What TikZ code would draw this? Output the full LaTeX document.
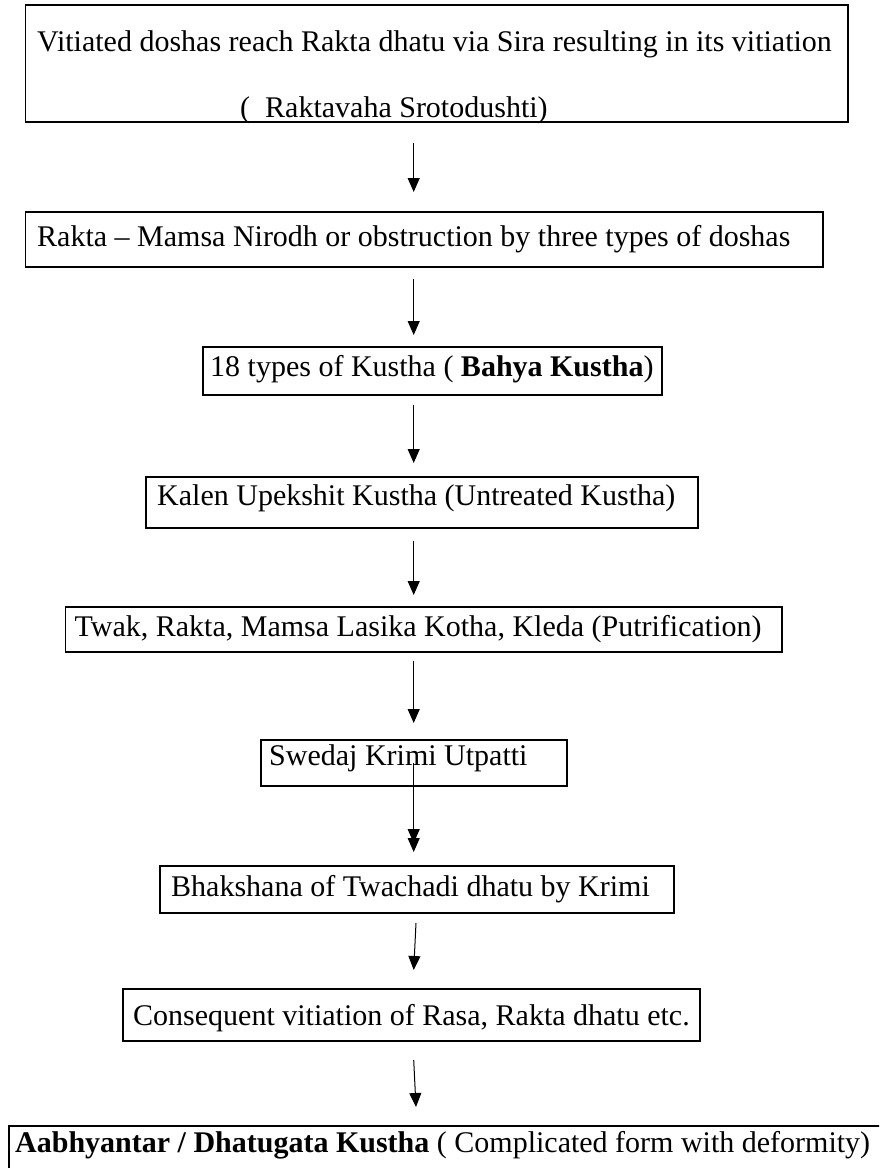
\documentclass[tikz,border=0pt]{standalone}
\usepackage{fontspec}
\setmainfont{Liberation Serif}
\usetikzlibrary{arrows.meta}
\tikzset{
  boxline/.style={draw=black, line width=1.5pt},
  txt/.style={anchor=base west, inner sep=0pt, font=\fontsize{30}{36}\selectfont},
  arr/.style={draw=black, line width=1pt, -{Triangle[length=14pt,width=12pt]}},
  frame/.style={inner sep=0pt, outer sep=0pt}
}
\begin{document}
\begin{tikzpicture}[x=1pt,y=-1pt]
\useasboundingbox (0,0) rectangle (879,1168);
\clip (0,0) rectangle (879,1168);
% boxes
\node[frame, boxline, fit/.style={}, minimum width=822.3pt, minimum height=117pt, anchor=north west] (b1) at (25.7,5) {};
\node[frame, boxline, minimum width=797.3pt, minimum height=55pt, anchor=north west] (b2) at (25.7,212) {};
\node[frame, boxline, minimum width=459pt, minimum height=48pt, anchor=north west] (b3) at (203,347) {};
\node[frame, boxline, minimum width=552pt, minimum height=51pt, anchor=north west] (b4) at (146,477) {};
\node[frame, boxline, minimum width=716.4pt, minimum height=45pt, anchor=north west] (b5) at (65.6,607) {};
\node[frame, boxline, minimum width=306pt, minimum height=46pt, anchor=north west] (b6) at (261,740) {};
\node[frame, boxline, minimum width=514pt, minimum height=47pt, anchor=north west] (b7) at (160,866) {};
\node[frame, boxline, minimum width=577pt, minimum height=52pt, anchor=north west] (b8) at (123,989) {};
\node[frame, boxline, minimum width=890pt, minimum height=60pt, anchor=north west] (b9) at (9,1126) {};
% texts
\node[txt] (t1a) at (37,51.7) {Vitiated doshas reach Rakta dhatu via Sira resulting in its vitiation};
\node[txt] (t1b) at (240,117) {(~~Raktavaha Srotodushti)};
\node[txt] (t2) at (37,246.7) {Rakta – Mamsa Nirodh or obstruction by three types of doshas};
\node[txt] (t3) at (210,376.7) {18 types of Kustha ( \textbf{Bahya Kustha})};
\node[txt] (t4) at (157,505) {Kalen Upekshit Kustha (Untreated Kustha)};
\node[txt] (t5) at (74.5,636) {Twak, Rakta, Mamsa Lasika Kotha, Kleda (Putrification)};
\node[txt] (t6) at (269,765) {Swedaj Krimi Utpatti};
\node[txt] (t7) at (171,896) {Bhakshana of Twachadi dhatu by Krimi};
\node[txt] (t8) at (133,1025) {Consequent vitiation of Rasa, Rakta dhatu etc.};
\node[txt] (t9) at (15,1152) {\textbf{Aabhyantar / Dhatugata Kustha} ( Complicated form with deformity)};
% arrow end points
\coordinate (a1s) at (413.7,143);  \coordinate (a1e) at (413.7,192);
\coordinate (a2s) at (413.7,279);  \coordinate (a2e) at (413.7,335);
\coordinate (a3s) at (413.7,405);  \coordinate (a3e) at (413.7,463);
\coordinate (a4s) at (413.7,541);  \coordinate (a4e) at (413.7,595);
\coordinate (a5s) at (413.7,661);  \coordinate (a5e) at (413.7,723);
\coordinate (a6s) at (413.7,763);  \coordinate (a6e) at (413.7,852);
\coordinate (a6m) at (413.7,843);
\coordinate (a7s) at (416,923);    \coordinate (a7e) at (413.7,970);
\coordinate (a8s) at (413.7,1060); \coordinate (a8e) at (416,1107);
\draw[arr] (a1s) -- (a1e);
\draw[arr] (a2s) -- (a2e);
\draw[arr] (a3s) -- (a3e);
\draw[arr] (a4s) -- (a4e);
\draw[arr] (a5s) -- (a5e);
\draw[arr] (a6s) -- (a6e);
\draw[arr] (a6s) -- (a6m);
\draw[arr] (a7s) -- (a7e);
\draw[arr] (a8s) -- (a8e);
\end{tikzpicture}
\end{document}
